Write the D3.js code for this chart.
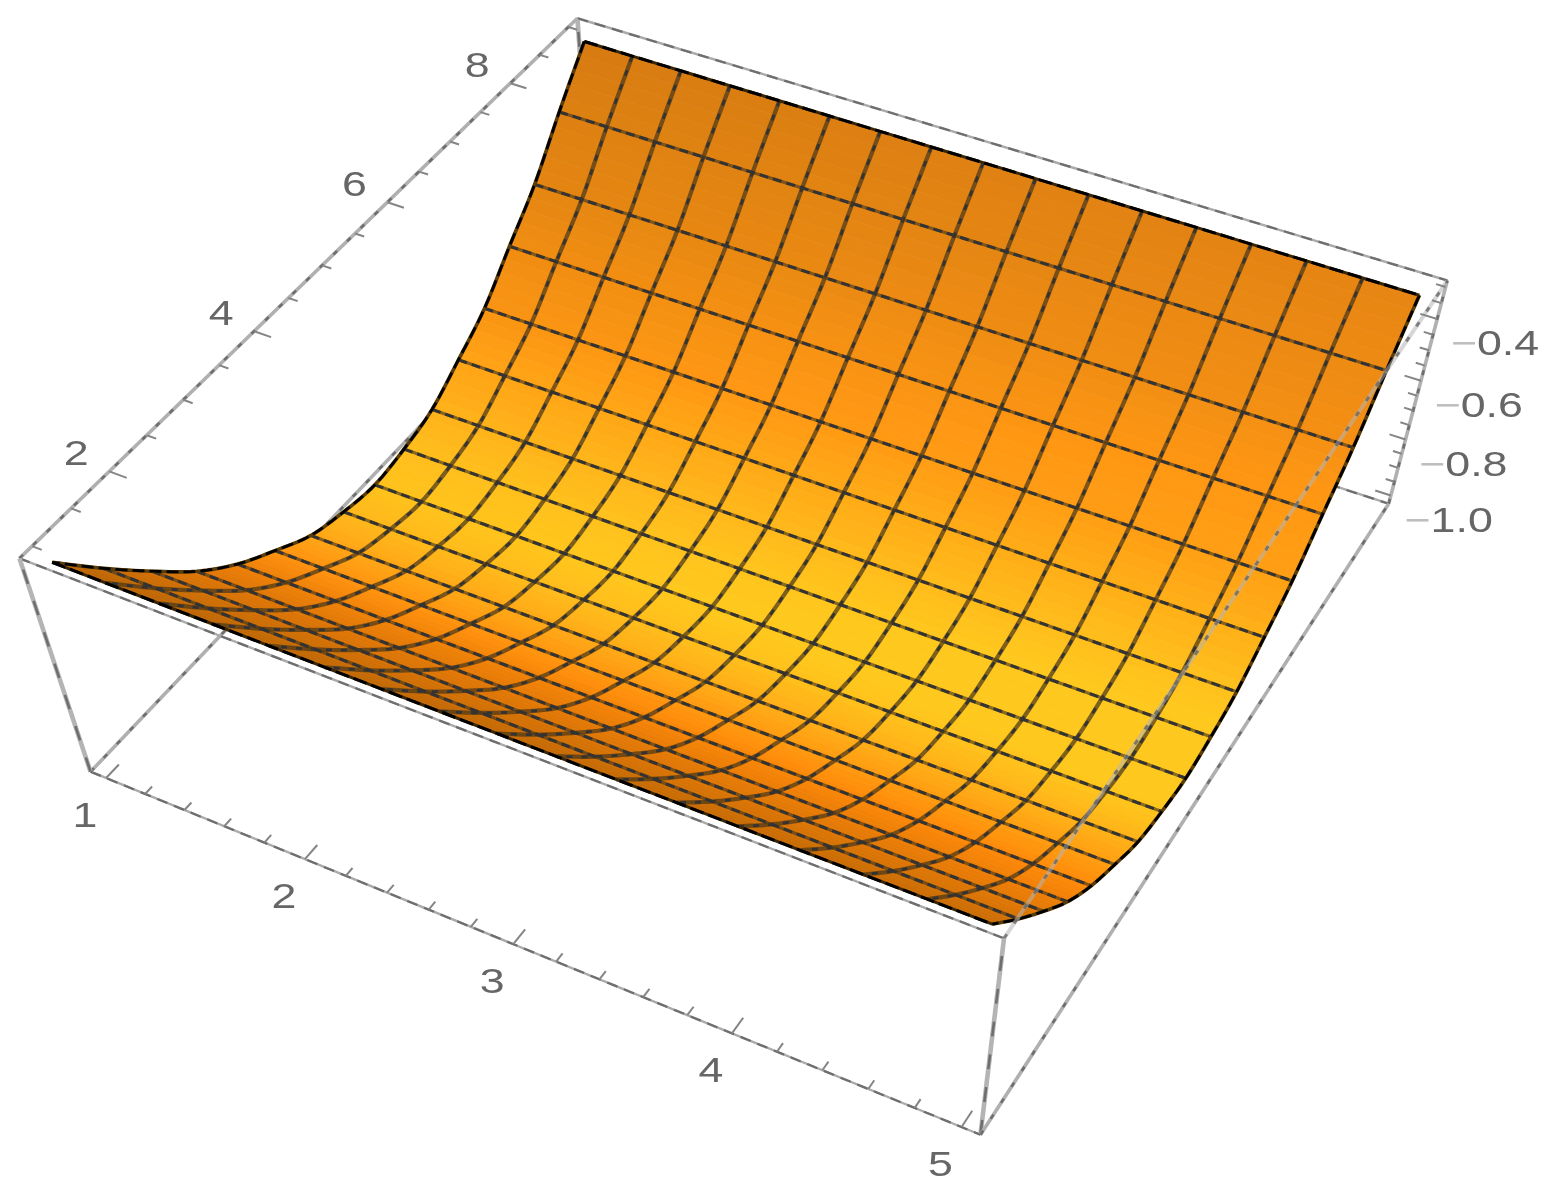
<!DOCTYPE html><html><head><meta charset="utf-8"><script src="https://cdn.jsdelivr.net/npm/d3@7"></script>
<style>html,body{margin:0;background:#fff}svg{display:block;filter:blur(0.45px)}</style></head><body><svg id="c" width="1563" height="1200"></svg><script>
// DATA
const xMesh=[1,1.25,1.5,1.75,2,2.25,2.5,2.75,3,3.25,3.5,3.75,4,4.25,4.5,4.75,5];
const yMesh=[9,8.5,8,7.5,7,6.5,6,5.5,5,4.5,4,3.5,3,2.5,2,1.5,1];
const zValues=[-0.310,-0.443,-0.585,-0.695,-0.807,-0.883,-0.952,-0.984,-1.0,-0.982,-0.949,-0.883,-0.809,-0.711,-0.587,-0.454,-0.311];
const rowColors=['#d67c12','#dc8012','#e48612','#ef8d12','#f99413','#ffa416','#ffb21a','#ffbe1c','#ffc21c','#ffb81a','#ffa516','#ff930f','#ec8008','#de7606','#d27006','#c66a04','#ba6404'];
const xMajor=[1,2,3,4,5],yMajor=[2,4,6,8],zMajor=[-0.4,-0.6,-0.8,-1.0];
const xLabels=['1','2','3','4','5'],yLabels=['2','4','6','8'],zLabels=['0.4','0.6','0.8','1.0'];
// view
const camera=[[0.79650,0.60260,-0.07297,0.09056],[0.25495,-0.48633,-0.26576,0.77171],[-0.09525,0.16798,-0.09390,1]];
const xS=d3.scaleLinear().domain([0.92,5.08]).range([0,1]),yS=d3.scaleLinear().domain([0.84,9.16]).range([0,1]),zS=d3.scaleLinear().domain([-1.03,-0.28]).range([0,1]);
function project(x,y,z){const v=[xS(x),yS(y),zS(z),1],d=r=>d3.sum(r,(c,i)=>c*v[i]),w=d(camera[2]);return [1000*d(camera[0])/w,1000*d(camera[1])/w];}
function zAt(f){ // f in row-index units; smooth curve through the read values
 const n=zValues.length,i=Math.min(n-2,Math.max(0,Math.floor(f))),t=f-i;
 const g=k=>k<0?2*zValues[0]-zValues[1]:k>n-1?2*zValues[n-1]-zValues[n-2]:zValues[k];
 const a=g(i-1),b=g(i),c=g(i+1),d=g(i+2);return 0.5*(2*b+(c-a)*t+(2*a-5*b+4*c-d)*t*t+(3*b-a-3*c+d)*t*t*t);}
const yAt=d3.scaleLinear().domain(d3.range(yMesh.length)).range(yMesh);
const rowColor=d3.scaleLinear().domain(d3.range(rowColors.length)).range(rowColors).interpolate(d3.interpolateRgb);
const svg=d3.select('#c');
const line=d3.line();
const [xa,xb]=xS.domain(),[ya,yb]=yS.domain(),[za,zb]=zS.domain();
function stroke(g,d,c,w,dash,op){const p=g.append('path').attr('d',d).attr('stroke',c).attr('stroke-width',w).attr('fill','none');if(dash)p.attr('stroke-dasharray',dash);if(op)p.attr('opacity',op);}
function edge(a,b,kind,g){const d=line([project(...a),project(...b)]);
 if(kind==='thin'){stroke(g,d,'#aaa',2.4);stroke(g,d,'#6e6e6e',2.2,'11 7');}
 else if(kind==='tall'){stroke(g,d,'#b4b4b4',4.6);stroke(g,d,'#6e6e6e',2.6,'15 18');}
 else if(kind==='over'){stroke(g,d,'#b4b4b4',4,null,.55);stroke(g,d,'#666',3,'5 13',.8);}
 else {stroke(g,d,'#b0b0b0',3.6);stroke(g,d,'#6e6e6e',2.6,'5 14');}}
// back edges
const back=svg.append('g');
edge([xa,ya,za],[xa,yb,za],'slant',back);edge([xa,yb,za],[xb,yb,za],'thin',back);edge([xa,yb,za],[xa,yb,zb],'tall',back);edge([xa,yb,zb],[xb,yb,zb],'thin',back);
// surface
const surf=svg.append('g');const sub=5;
for(let r=0;r<yMesh.length-1;r++)for(let s=0;s<sub;s++){const f0=r+s/sub,f1=r+(s+1)/sub,fm=(f0+f1)/2;
 for(let c=0;c<xMesh.length-1;c++){const x0=xMesh[c],x1=xMesh[c+1];const base=d3.rgb(rowColor(fm));const k=1+0.08*(c+.5)/(xMesh.length-1);
  const col=d3.rgb(Math.min(255,base.r*k),Math.min(200,base.g*k),Math.min(255,base.b*k)).formatRgb();
  const poly=[project(x0,yAt(f0),zAt(f0)),project(x1,yAt(f0),zAt(f0)),project(x1,yAt(f1),zAt(f1)),project(x0,yAt(f1),zAt(f1))];
  surf.append('path').attr('d',line(poly)+'Z').attr('fill',col).attr('stroke',col).attr('stroke-width',.7);}}
// mesh
const mesh=svg.append('g');
function rowPath(i){return line(xMesh.map(x=>project(x,yMesh[i],zValues[i])));}
function colPath(x){return line(d3.range(0,yMesh.length-1+1e-6,1/8).map(f=>project(x,yAt(f),zAt(f))));}
xMesh.slice(1,-1).forEach(x=>{const d=colPath(x);stroke(mesh,d,'rgba(75,55,25,.72)',4.2);stroke(mesh,d,'#333',2.8,'6 9');});
yMesh.slice(1,-1).forEach((y,i)=>{const d=rowPath(i+1);stroke(mesh,d,'rgba(75,55,25,.65)',3.2);stroke(mesh,d,'#333',3,'9 5');});
[colPath(xMesh[0]),colPath(xMesh[xMesh.length-1])].forEach(d=>{stroke(mesh,d,'#5a3c08',3.6);stroke(mesh,d,'#000',2.8,'12 5');});
[rowPath(0),rowPath(yMesh.length-1)].forEach(d=>{stroke(mesh,d,'#3a2606',3);stroke(mesh,d,'#000',3,'14 5');});
// front edges
const front=svg.append('g');
edge([xa,ya,zb],[xb,ya,zb],'thin',front);edge([xb,ya,zb],[xb,yb,zb],'over',front);edge([xa,ya,zb],[xa,yb,zb],'slant',front);edge([xa,ya,za],[xa,ya,zb],'tall',front);edge([xb,ya,za],[xb,ya,zb],'tall',front);edge([xa,ya,za],[xb,ya,za],'thin',front);edge([xb,ya,za],[xb,yb,za],'slant',front);edge([xb,yb,za],[xb,yb,zb],'slant',front);
// ticks
const ticks=svg.append('g');
const near=(a,b)=>Math.abs(a-b)<1e-6;
const dY=yb-ya,dX=xb-xa;
xS.ticks(20).forEach(x=>{const m=xMajor.some(t=>near(t,x));stroke(ticks,line([project(x,ya,za),project(x,ya+dY*(m?.022:.012),za)]),'#858585',2);});
yS.ticks(16).forEach(y=>{const m=yMajor.some(t=>near(t,y));stroke(ticks,line([project(xa,y,zb),project(xa+dX*(m?.02:.011),y,zb)]),'#858585',2);});
zS.ticks(15).forEach(z=>{const m=zMajor.some(t=>near(t,z));stroke(ticks,line([project(xb,yb,z),project(xb-dX*(m?.018:.01),yb,z)]),'#858585',2);});
// labels
const labels=svg.append('g').attr('font-family','"Liberation Sans",Arial,sans-serif').attr('font-size',35).attr('fill','#666');
function put(pt,dx,dy,str,anchor){return labels.append('text').attr('transform',`translate(${pt[0]+dx},${pt[1]+dy}) scale(1.28,1)`).attr('text-anchor',anchor).text(str);}
xMajor.forEach((x,i)=>put(project(x,ya,za),-21,49,xLabels[i],'middle'));
yMajor.forEach((y,i)=>put(project(xa,y,zb),-33,-6,yLabels[i],'middle'));
zMajor.forEach((z,i)=>{const t=put(project(xb,yb,z),102,36,'','end');t.append('tspan').attr('fill','#bdbdbd').text('\u2212');t.append('tspan').text(zLabels[i]);});
</script></body></html>
